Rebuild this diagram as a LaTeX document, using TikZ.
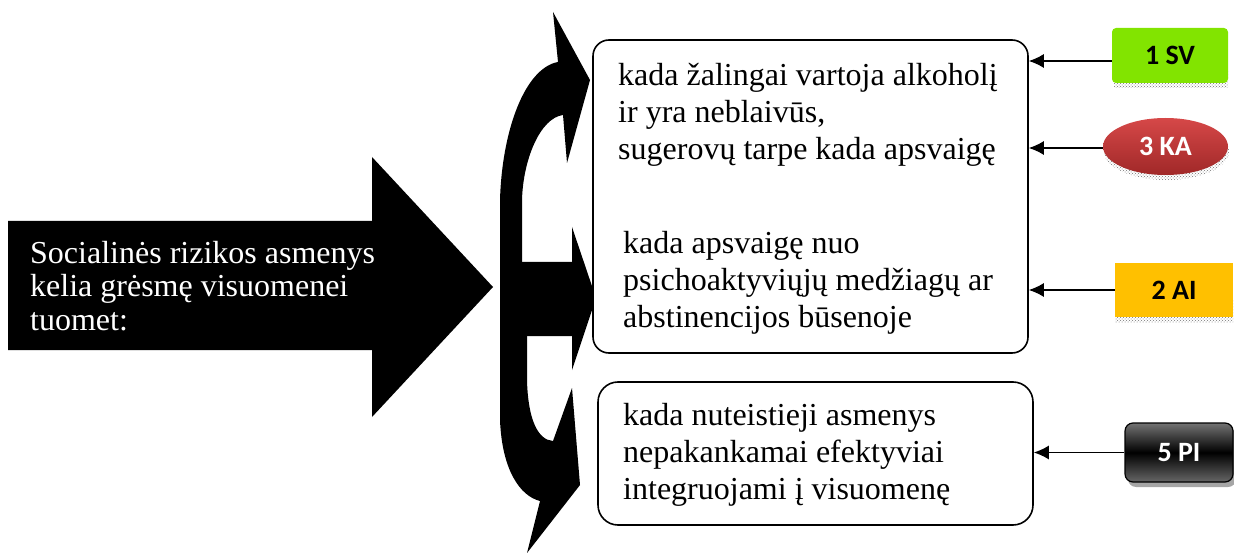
\documentclass[tikz,border=0pt]{standalone}
\usepackage{fontspec}
\setmainfont{Liberation Serif}
\newfontfamily\labfont{Carlito}
\usetikzlibrary{arrows.meta,shapes.geometric,patterns}
\definecolor{labgreen}{RGB}{130,228,0}
\definecolor{laborange}{RGB}{255,192,0}
\definecolor{redtop}{RGB}{214,72,72}
\definecolor{redbot}{RGB}{160,40,40}
\begin{document}
\begin{tikzpicture}[x=1pt,y=-1pt,
  box/.style={draw,line width=1.6pt,rounded corners=16pt,inner sep=0pt,fill=white},
  boxtext/.style={anchor=north west,inner sep=0pt,align=left,font=\fontsize{32}{37}\selectfont},
  lab/.style={inner sep=0pt,font=\labfont\bfseries\fontsize{28}{30}\selectfont},
  shadowpat/.style={pattern=crosshatch dots,pattern color=black!55},
  conn/.style={line width=1.4pt,-{Latex[length=15pt,width=14pt]}}]
\useasboundingbox (0,0) rectangle (1234,553);
% big left arrow
\fill[black] (8,221) -- (372,221) -- (372,157) -- (493,287) -- (372,417) -- (372,350) -- (8,350) -- cycle;
\node[anchor=north west,inner sep=0pt,align=left,text=white,font=\fontsize{32}{33.5}\selectfont] (src) at (30,241)
  {Socialinės rizikos asmenys\\kelia grėsmę visuomenei\\tuomet:};
% curved arrows
\fill[black] (500,262) -- (500,200) .. controls (502,130) and (525,68) .. (558,62) -- (553,12) -- (590,80) -- (567,163) -- (563,115) .. controls (540,118) and (523,160) .. (522,200) -- (522,262) -- cycle;
\fill[black] (500,262) -- (572,262) -- (572,227) -- (596,298) -- (572,370) -- (572,336) -- (500,336) -- cycle;
\fill[black] (500,335) -- (500,420) .. controls (502,470) and (520,496) .. (540,501) -- (527,553) -- (580,485) -- (572,388) -- (553,441) .. controls (538,440) and (528,420) .. (527,380) -- (527,335) -- cycle;
% boxes
\node[box,minimum width=435pt,minimum height=313pt] (b1) at (810.5,196.5) {};
\node[box,minimum width=435pt,minimum height=143pt,rounded corners=20pt] (b3) at (815.5,453.5) {};
\node[boxtext] (t1) at (618,63) {kada žalingai vartoja alkoholį\\ir yra neblaivūs,\\sugerovų tarpe kada apsvaigę};
\node[boxtext] (t2) at (623,231) {kada apsvaigę nuo\\psichoaktyviųjų medžiagų ar\\abstinencijos būsenoje};
\node[boxtext] (t3) at (623,403) {kada nuteistieji asmenys\\nepakankamai efektyviai\\integruojami į visuomenę};
% labels with shadows
\fill[shadowpat] (1114,70) rectangle (1228,88);
\node[lab,fill=labgreen,rounded corners=4pt,minimum width=116pt,minimum height=55pt] (l1) at (1170,55.5) {1 SV};
\fill[shadowpat] (1166.5,151.5) ellipse [x radius=62.5pt,y radius=28.5pt];
\node[lab,ellipse,top color=redtop,bottom color=redbot,text=white,minimum width=125pt,minimum height=57pt] (l3) at (1165.5,146.5) {3 KA};
\fill[shadowpat] (1115,300) rectangle (1233,322);
\node[lab,fill=laborange,minimum width=118pt,minimum height=54pt] (l2) at (1174,290) {2 AI};
\fill[black!35,rounded corners=8pt] (1128,428) rectangle (1236,487);
\node[lab,draw=black,line width=1.2pt,rounded corners=8pt,top color=black!55,bottom color=black!60,middle color=black,text=white,minimum width=108pt,minimum height=59pt] (l5) at (1179,452.5) {5 PI};
% connectors
\draw[conn] ([yshift=-5.5pt]l1.west) -- ([yshift=-5.5pt]l1.west -| b1.east);
\draw[conn] ([yshift=-1.5pt]l3.west) -- ([yshift=-1.5pt]l3.west -| b1.east);
\draw[conn] (l2.west) -- (l2.west -| b1.east);
\draw[conn] (l5.west) -- (l5.west -| b3.east);
\end{tikzpicture}
\end{document}
